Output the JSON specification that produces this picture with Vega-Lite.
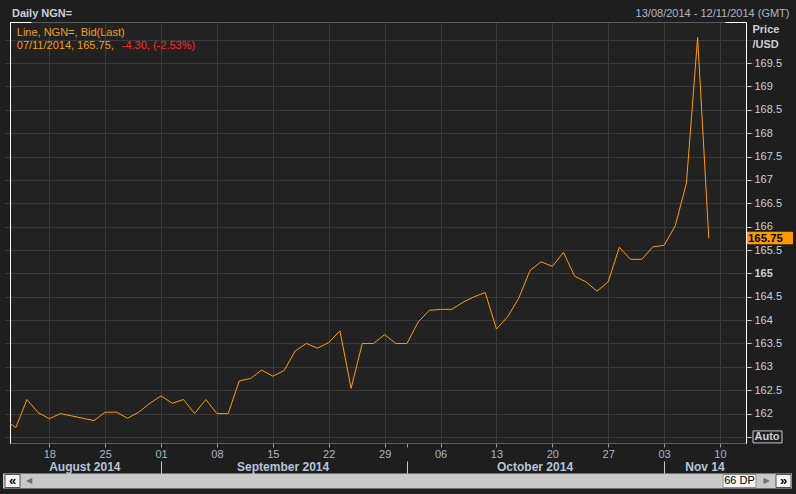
{
  "$schema": "https://vega.github.io/schema/vega-lite/v6.json",
  "width": 736,
  "height": 421,
  "autosize": {"type": "none"},
  "padding": {"left": 10, "top": 22, "right": 50, "bottom": 51},
  "background": "#1e1e1e",
  "config": {
    "view": {"stroke": null, "fill": "#222222"},
    "axis": {"labelFont": "Liberation Sans", "titleFont": "Liberation Sans"},
    "text": {"font": "Liberation Sans"}
  },
  "datasets": {
    "ngn": [
      {"date": "2014-08-12", "price": 161.87},
      {"date": "2014-08-13", "price": 161.70},
      {"date": "2014-08-14", "price": 162.30},
      {"date": "2014-08-15", "price": 162.02},
      {"date": "2014-08-18", "price": 161.89},
      {"date": "2014-08-19", "price": 162.00},
      {"date": "2014-08-20", "price": 161.95},
      {"date": "2014-08-21", "price": 161.90},
      {"date": "2014-08-22", "price": 161.85},
      {"date": "2014-08-25", "price": 162.03},
      {"date": "2014-08-26", "price": 162.03},
      {"date": "2014-08-27", "price": 161.90},
      {"date": "2014-08-28", "price": 162.03},
      {"date": "2014-08-29", "price": 162.22},
      {"date": "2014-09-01", "price": 162.38},
      {"date": "2014-09-02", "price": 162.22},
      {"date": "2014-09-03", "price": 162.30},
      {"date": "2014-09-04", "price": 162.00},
      {"date": "2014-09-05", "price": 162.30},
      {"date": "2014-09-08", "price": 162.00},
      {"date": "2014-09-09", "price": 162.00},
      {"date": "2014-09-10", "price": 162.70},
      {"date": "2014-09-11", "price": 162.75},
      {"date": "2014-09-12", "price": 162.93},
      {"date": "2014-09-15", "price": 162.80},
      {"date": "2014-09-16", "price": 162.92},
      {"date": "2014-09-17", "price": 163.34},
      {"date": "2014-09-18", "price": 163.50},
      {"date": "2014-09-19", "price": 163.40},
      {"date": "2014-09-22", "price": 163.52},
      {"date": "2014-09-23", "price": 163.77},
      {"date": "2014-09-24", "price": 162.54},
      {"date": "2014-09-25", "price": 163.50},
      {"date": "2014-09-26", "price": 163.50},
      {"date": "2014-09-29", "price": 163.69},
      {"date": "2014-09-30", "price": 163.50},
      {"date": "2014-10-01", "price": 163.50},
      {"date": "2014-10-02", "price": 163.96},
      {"date": "2014-10-03", "price": 164.21},
      {"date": "2014-10-06", "price": 164.23},
      {"date": "2014-10-07", "price": 164.23},
      {"date": "2014-10-08", "price": 164.38},
      {"date": "2014-10-09", "price": 164.50},
      {"date": "2014-10-10", "price": 164.59},
      {"date": "2014-10-13", "price": 163.81},
      {"date": "2014-10-14", "price": 164.07},
      {"date": "2014-10-15", "price": 164.47},
      {"date": "2014-10-16", "price": 165.06},
      {"date": "2014-10-17", "price": 165.25},
      {"date": "2014-10-20", "price": 165.15},
      {"date": "2014-10-21", "price": 165.45},
      {"date": "2014-10-22", "price": 164.94},
      {"date": "2014-10-23", "price": 164.82},
      {"date": "2014-10-24", "price": 164.62},
      {"date": "2014-10-27", "price": 164.82},
      {"date": "2014-10-28", "price": 165.56},
      {"date": "2014-10-29", "price": 165.30},
      {"date": "2014-10-30", "price": 165.30},
      {"date": "2014-10-31", "price": 165.57},
      {"date": "2014-11-03", "price": 165.60},
      {"date": "2014-11-04", "price": 166.02},
      {"date": "2014-11-05", "price": 166.93},
      {"date": "2014-11-06", "price": 170.05},
      {"date": "2014-11-07", "price": 165.75}
    ]
  },
  "layer": [
    {
      "data": {"name": "ngn"},
      "mark": {"type": "point", "opacity": 0},
      "encoding": {
        "x": {"field": "date", "type": "ordinal",
          "scale": {"type": "point", "padding": 0, "range": [-5.41, 743.5], "domain": ["2014-08-12","2014-08-13","2014-08-14","2014-08-15","2014-08-18","2014-08-19","2014-08-20","2014-08-21","2014-08-22","2014-08-25","2014-08-26","2014-08-27","2014-08-28","2014-08-29","2014-09-01","2014-09-02","2014-09-03","2014-09-04","2014-09-05","2014-09-08","2014-09-09","2014-09-10","2014-09-11","2014-09-12","2014-09-15","2014-09-16","2014-09-17","2014-09-18","2014-09-19","2014-09-22","2014-09-23","2014-09-24","2014-09-25","2014-09-26","2014-09-29","2014-09-30","2014-10-01","2014-10-02","2014-10-03","2014-10-06","2014-10-07","2014-10-08","2014-10-09","2014-10-10","2014-10-13","2014-10-14","2014-10-15","2014-10-16","2014-10-17","2014-10-20","2014-10-21","2014-10-22","2014-10-23","2014-10-24","2014-10-27","2014-10-28","2014-10-29","2014-10-30","2014-10-31","2014-11-03","2014-11-04","2014-11-05","2014-11-06","2014-11-07","2014-11-10","2014-11-11","2014-11-12","2014-11-13"]},
          "axis": {"orient": "bottom", "values": ["2014-08-18","2014-08-25","2014-09-01","2014-09-08","2014-09-15","2014-09-22","2014-09-29","2014-10-06","2014-10-13","2014-10-20","2014-10-27","2014-11-03","2014-11-10"],
            "grid": true, "gridColor": "#3a3a3a", "labels": false, "ticks": false, "tickSize": 0,
            "domain": true, "domainColor": "#ffffff", "domainDash": [0, 5.41, 21, 694, 21, 100], "title": null}},
        "y": {"field": "price", "type": "quantitative",
          "scale": {"domain": [161.37, 170.38], "nice": false, "zero": false},
          "axis": {"orient": "left", "values": [161.5,162,162.5,163,163.5,164,164.5,165,165.5,166,166.5,167,167.5,168,168.5,169,169.5,170],
            "grid": true, "gridColor": "#3a3a3a", "labels": false, "ticks": false, "tickSize": 0,
            "domain": true, "domainColor": "#ffffff", "title": null}}
      }
    },
    {
      "data": {"name": "ngn"},
      "mark": {"type": "line", "color": "#ff9c00", "strokeWidth": 1, "clip": true},
      "encoding": {
        "x": {"field": "date", "type": "ordinal",
          "scale": {"type": "point", "padding": 0, "range": [-5.41, 743.5], "domain": ["2014-08-12","2014-08-13","2014-08-14","2014-08-15","2014-08-18","2014-08-19","2014-08-20","2014-08-21","2014-08-22","2014-08-25","2014-08-26","2014-08-27","2014-08-28","2014-08-29","2014-09-01","2014-09-02","2014-09-03","2014-09-04","2014-09-05","2014-09-08","2014-09-09","2014-09-10","2014-09-11","2014-09-12","2014-09-15","2014-09-16","2014-09-17","2014-09-18","2014-09-19","2014-09-22","2014-09-23","2014-09-24","2014-09-25","2014-09-26","2014-09-29","2014-09-30","2014-10-01","2014-10-02","2014-10-03","2014-10-06","2014-10-07","2014-10-08","2014-10-09","2014-10-10","2014-10-13","2014-10-14","2014-10-15","2014-10-16","2014-10-17","2014-10-20","2014-10-21","2014-10-22","2014-10-23","2014-10-24","2014-10-27","2014-10-28","2014-10-29","2014-10-30","2014-10-31","2014-11-03","2014-11-04","2014-11-05","2014-11-06","2014-11-07","2014-11-10","2014-11-11","2014-11-12","2014-11-13"]},
          "axis": {"orient": "bottom", "values": ["2014-08-18","2014-08-25","2014-09-01","2014-09-08","2014-09-15","2014-09-22","2014-09-29","2014-10-01","2014-10-06","2014-10-13","2014-10-20","2014-10-27","2014-11-03","2014-11-10"],
            "labelExpr": "datum.value == '2014-10-01' ? '' : substring(datum.value, 8, 10)",
            "grid": false, "domain": true, "domainColor": "#5c5c5c", "domainDash": [0, 5.41, 736, 100],
            "ticks": true, "tickSize": 4, "tickColor": "#9a9a9a",
            "labelColor": "#aab6c8", "labelFontSize": 11, "labelPadding": 1, "labelAngle": 0, "labelOverlap": false, "title": null}},
        "y": {"field": "price", "type": "quantitative",
          "scale": {"domain": [161.37, 170.38], "nice": false, "zero": false},
          "axis": {"orient": "right", "values": [161.5,162,162.5,163,163.5,164,164.5,165,165.5,166,166.5,167,167.5,168,168.5,169,169.5],
            "format": "~g",
            "labelExpr": "datum.value == 161.5 ? 'Auto' : datum.label",
            "labelFontWeight": {"condition": {"test": "datum.value == 165 || datum.value == 161.5", "value": "bold"}, "value": "normal"},
            "grid": false, "domain": true, "domainColor": "#ffffff",
            "ticks": true, "tickSize": 5, "tickColor": "#c8c8c8",
            "labelColor": "#c8d0dc", "labelFontSize": 11, "labelPadding": 3, "labelOverlap": false, "labelBaseline": "middle",
            "title": ["Price", "/USD"], "titleAngle": 0, "titleAlign": "left", "titleBaseline": "top",
            "titleX": 6, "titleY": 1, "titleFontSize": 11, "titleFontWeight": "bold", "titleColor": "#c8d0dc", "titleLineHeight": 15}}
      }
    },
    {
      "data": {"name": "ngn"},
      "mark": {"type": "point", "opacity": 0},
      "encoding": {
        "x": {"field": "date", "type": "ordinal",
          "scale": {"type": "point", "padding": 0, "range": [-5.41, 743.5]},
          "axis": {"orient": "bottom", "values": ["2014-08-21","2014-09-16","2014-10-16","2014-11-07"],
            "labelExpr": "datum.value == '2014-08-21' ? 'August 2014' : datum.value == '2014-09-16' ? 'September 2014' : datum.value == '2014-10-16' ? 'October 2014' : 'Nov 14'",
            "labelOffset": {"condition": [{"test": "datum.value == '2014-10-16'", "value": 4.6}, {"test": "datum.value == '2014-11-07'", "value": -4.3}, {"test": "datum.value == '2014-08-21'", "value": 1.5}], "value": -1.4},
            "labelFontWeight": "bold", "labelFontSize": 12, "labelColor": "#b8c4d8",
            "ticks": false, "tickSize": 0, "domain": false, "grid": false, "labelPadding": 18, "labelAngle": 0, "labelOverlap": false, "title": null}},
        "y": {"field": "price", "type": "quantitative", "scale": {"domain": [161.37, 170.38], "nice": false, "zero": false}, "axis": null}
      }
    },
    {
      "data": {"name": "ngn"},
      "mark": {"type": "point", "opacity": 0},
      "encoding": {
        "x": {"field": "date", "type": "ordinal",
          "scale": {"type": "point", "padding": 0, "range": [-5.41, 743.5]},
          "axis": {"orient": "bottom", "values": ["2014-09-01","2014-10-01","2014-11-03"],
            "labels": false, "ticks": true, "tickSize": 12, "tickColor": "#c8c8c8", "offset": 18,
            "domain": false, "grid": false, "title": null}},
        "y": {"field": "price", "type": "quantitative", "scale": {"domain": [161.37, 170.38], "nice": false, "zero": false}, "axis": null}
      }
    },
    {
      "data": {"name": "ngn"},
      "mark": {"type": "point", "opacity": 0},
      "encoding": {
        "x": {"field": "date", "type": "ordinal",
          "scale": {"type": "point", "padding": 0, "range": [-5.41, 743.5]},
          "axis": {"orient": "top", "labels": false, "ticks": false, "tickSize": 0, "grid": false,
            "domain": true, "domainColor": "#5c5c5c", "domainDash": [0, 5.41, 736, 100],
            "title": "13/08/2014 - 12/11/2014 (GMT)", "titleX": 779, "titleY": -9, "titleAlign": "right", "titleBaseline": "middle", "titleAngle": 0,
            "titleFontSize": 11, "titleFontWeight": "normal", "titleColor": "#b0b8c4"}},
        "y": {"field": "price", "type": "quantitative", "scale": {"domain": [161.37, 170.38], "nice": false, "zero": false}, "axis": null}
      }
    },
    {
      "data": {"name": "ngn"},
      "mark": {"type": "point", "opacity": 0},
      "encoding": {
        "x": {"field": "date", "type": "ordinal",
          "scale": {"type": "point", "padding": 0, "range": [-5.41, 743.5]},
          "axis": {"orient": "top", "labels": false, "ticks": false, "tickSize": 0, "grid": false,
            "domain": true, "domainColor": "#ffffff", "domainDash": [0, 5.41, 21, 694, 21, 100],
            "title": "Daily NGN=", "titleX": 1.5, "titleY": -9, "titleAlign": "left", "titleBaseline": "middle", "titleAngle": 0,
            "titleFontSize": 11, "titleFontWeight": "bold", "titleColor": "#c8d0dc"}},
        "y": {"field": "price", "type": "quantitative", "scale": {"domain": [161.37, 170.38], "nice": false, "zero": false}, "axis": null}
      }
    },
    {
      "data": {"name": "ngn"},
      "transform": [{"filter": "datum.date == '2014-11-07'"}],
      "mark": {"type": "rect", "fill": "#ff9900", "xOffset": 1, "x2Offset": 47, "yOffset": -6.5, "y2Offset": 6},
      "encoding": {
        "x": {"value": "width"},
        "x2": {"value": "width"},
        "y": {"field": "price", "type": "quantitative", "scale": {"domain": [161.37, 170.38], "nice": false, "zero": false}, "axis": null},
        "y2": {"field": "price"}
      }
    },
    {
      "data": {"name": "ngn"},
      "transform": [{"filter": "datum.date == '2014-11-07'"}],
      "mark": {"type": "text", "align": "left", "baseline": "middle", "dx": 2, "dy": 0.4, "fontSize": 11.4, "fontWeight": "bold", "color": "#000000"},
      "encoding": {
        "x": {"value": "width"},
        "y": {"field": "price", "type": "quantitative", "scale": {"domain": [161.37, 170.38], "nice": false, "zero": false}, "axis": null},
        "text": {"field": "price", "type": "quantitative", "format": ".2f"}
      }
    },
    {
      "data": {"values": [{}]},
      "mark": {"type": "rect", "fillOpacity": 0, "stroke": "#c8c8c8", "strokeWidth": 1, "xOffset": 7, "x2Offset": 36, "yOffset": -6, "y2Offset": 6},
      "encoding": {
        "x": {"value": "width"},
        "x2": {"value": "width"},
        "y": {"datum": 161.5, "type": "quantitative", "scale": {"domain": [161.37, 170.38], "nice": false, "zero": false}, "axis": null},
        "y2": {"datum": 161.5}
      }
    },
    {
      "data": {"values": [{}]},
      "mark": {"type": "text", "align": "left", "baseline": "middle", "dx": 1, "fontSize": 11, "color": "#f39c1a"},
      "encoding": {
        "x": {"datum": "2014-08-13", "type": "ordinal", "scale": {"type": "point", "padding": 0, "range": [-5.41, 743.5]}, "axis": null},
        "y": {"datum": 170.14, "type": "quantitative", "scale": {"domain": [161.37, 170.38], "nice": false, "zero": false}, "axis": null},
        "text": {"value": "Line, NGN=, Bid(Last)"}
      }
    },
    {
      "data": {"values": [{}]},
      "mark": {"type": "text", "align": "left", "baseline": "middle", "dx": 1, "fontSize": 11, "color": "#f39c1a"},
      "encoding": {
        "x": {"datum": "2014-08-13", "type": "ordinal", "scale": {"type": "point", "padding": 0, "range": [-5.41, 743.5]}, "axis": null},
        "y": {"datum": 169.865, "type": "quantitative", "scale": {"domain": [161.37, 170.38], "nice": false, "zero": false}, "axis": null},
        "text": {"value": "07/11/2014, 165.75,"}
      }
    },
    {
      "data": {"values": [{}]},
      "mark": {"type": "text", "align": "left", "baseline": "middle", "dx": 106, "fontSize": 11, "color": "#ff2a2a"},
      "encoding": {
        "x": {"datum": "2014-08-13", "type": "ordinal", "scale": {"type": "point", "padding": 0, "range": [-5.41, 743.5]}, "axis": null},
        "y": {"datum": 169.865, "type": "quantitative", "scale": {"domain": [161.37, 170.38], "nice": false, "zero": false}, "axis": null},
        "text": {"value": "-4.30, (-2.53%)"}
      }
    },
    {
      "data": {"values": [{}]},
      "mark": {"type": "rect", "fill": "#c8c8c8"},
      "encoding": {"x": {"value": -7}, "x2": {"value": 782}, "y": {"value": 451.5}, "y2": {"value": 466.5}}
    },
    {
      "data": {"values": [{}]},
      "mark": {"type": "rect", "fill": "#f4f4f4", "stroke": "#505050", "strokeWidth": 1},
      "encoding": {"x": {"value": -5}, "x2": {"value": 10}, "y": {"value": 452.5}, "y2": {"value": 465.5}}
    },
    {
      "data": {"values": [{}]},
      "mark": {"type": "rect", "fill": "#f4f4f4", "stroke": "#909090", "strokeWidth": 1},
      "encoding": {"x": {"value": 713}, "x2": {"value": 746}, "y": {"value": 452.5}, "y2": {"value": 465.5}}
    },
    {
      "data": {"values": [{}]},
      "mark": {"type": "rect", "fill": "#f4f4f4", "stroke": "#505050", "strokeWidth": 1},
      "encoding": {"x": {"value": 766}, "x2": {"value": 781}, "y": {"value": 452.5}, "y2": {"value": 465.5}}
    },
    {
      "data": {"values": [{}]},
      "mark": {"type": "text", "align": "center", "baseline": "middle", "fontSize": 11, "color": "#000000"},
      "encoding": {"x": {"value": 729.5}, "y": {"value": 459}, "text": {"value": "66 DP"}}
    },
    {
      "data": {"values": [{}]},
      "mark": {"type": "text", "align": "center", "baseline": "middle", "fontSize": 13, "fontWeight": "bold", "color": "#000000"},
      "encoding": {"x": {"value": 2.5}, "y": {"value": 458.5}, "text": {"value": "«"}}
    },
    {
      "data": {"values": [{}]},
      "mark": {"type": "text", "align": "center", "baseline": "middle", "fontSize": 13, "fontWeight": "bold", "color": "#000000"},
      "encoding": {"x": {"value": 773.5}, "y": {"value": 458.5}, "text": {"value": "»"}}
    },
    {
      "data": {"values": [{}]},
      "mark": {"type": "text", "align": "center", "baseline": "middle", "fontSize": 8, "color": "#707070", "font": "DejaVu Sans"},
      "encoding": {"x": {"value": 19}, "y": {"value": 459}, "text": {"value": "◀"}}
    },
    {
      "data": {"values": [{}]},
      "mark": {"type": "text", "align": "center", "baseline": "middle", "fontSize": 8, "color": "#707070", "font": "DejaVu Sans"},
      "encoding": {"x": {"value": 756.5}, "y": {"value": 459}, "text": {"value": "▶"}}
    }
  ],
  "resolve": {"axis": {"x": "independent", "y": "independent"}}
}
